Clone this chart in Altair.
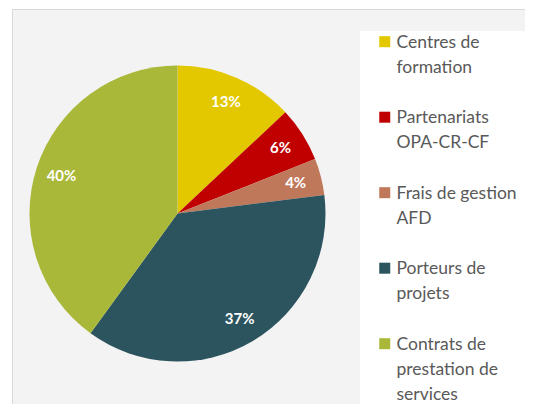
import altair as alt
import pandas as pd

# Data
categories = [
    "Centres de|formation",
    "Partenariats|OPA-CR-CF",
    "Frais de gestion|AFD",
    "Porteurs de|projets",
    "Contrats de|prestation de|services",
]
shares = [13, 6, 4, 37, 40]
colors = ["#E3C800", "#C00000", "#C0785A", "#2C545E", "#A9B838"]
order = [0, 1, 2, 3, 4]

df = pd.DataFrame({
    "cat": categories,
    "share": shares,
    "order": order,
    "label": [f"{s}%" for s in shares],
})

color_scale = alt.Scale(domain=categories, range=colors)

base = alt.Chart(df).encode(
    theta=alt.Theta("share:Q", stack=True),
    order=alt.Order("order:Q"),
)

arc = base.mark_arc(outerRadius=148).encode(
    x=alt.value(165.5),
    y=alt.value(204.5),
    color=alt.Color(
        "cat:N",
        scale=color_scale,
        sort=categories,
        legend=alt.Legend(
            title=None,
            orient="none",
            legendX=348,
            legendY=22,
            padding=8,
            fillColor="#FFFFFF",
            symbolType="M-1,-2.1H1V-0.1H-1Z",
            symbolSize=121,
            symbolStrokeWidth=0,
            symbolOffset=8,
            labelOffset=3,
            labelFont="Lato",
            labelFontSize=17.5,
            labelColor="#595959",
            labelLimit=0,
            labelBaseline="alphabetic",
            labelExpr="split(datum.label, '|')",
            rowPadding=31.5,
        ),
    ),
)

text = base.mark_text(
    radius=122, font="Lato", fontSize=15, fontWeight="bold", color="white"
).encode(
    x=alt.value(165.5),
    y=alt.value(204.5),
    text="label:N",
)

chart = (
    alt.layer(arc, text)
    .properties(
        width=513,
        height=395,
        padding={"left": 4, "top": 1, "right": 0, "bottom": 0},
        autosize="none",
        background="#FFFFFF",
    )
    .configure(style={"guide-label": {"lineHeight": 25}})
    .configure_view(fill="#F3F3F3", stroke="#D9D9D9", strokeWidth=1)
)

chart.save("out.html", embed_options={"renderer": "svg", "actions": False})
